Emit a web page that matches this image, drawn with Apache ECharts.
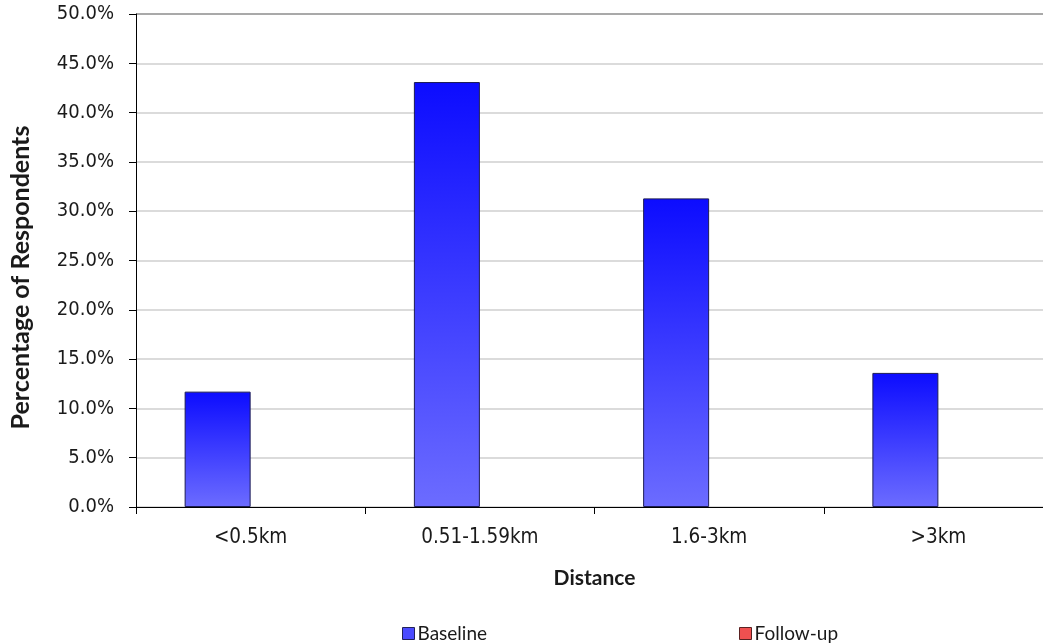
<!DOCTYPE html>
<html>
<head>
<meta charset="utf-8">
<script src="https://cdn.jsdelivr.net/npm/echarts@6/dist/echarts.min.js"></script>
<style>
  html, body { margin: 0; padding: 0; background: #ffffff; overflow: hidden; }
  /* the plot runs on past the right edge of the window, so the canvas is wider than the page */
  #chart { width: 1070px; height: 643px; }
</style>
</head>
<body>
<div id="chart"></div>
<script>
// Distance bands and share of respondents (%) per survey wave
const categories = ['<0.5km', '0.51-1.59km', '1.6-3km', '>3km'];
const baseline = [11.7, 43.1, 31.3, 13.6];
const followUp = [null, null, null, null];
const yTicks = { min: 0, max: 50, interval: 5 };

const labelFont = '"DejaVu Sans Condensed", "DejaVu Sans", sans-serif';
const titleFont = 'Lato, "Open Sans", sans-serif';

const blueFill = new echarts.graphic.LinearGradient(0, 0, 0, 1, [
  { offset: 0, color: '#0c0cff' },
  { offset: 1, color: '#6c6cff' }
]);
const redFill = new echarts.graphic.LinearGradient(0, 0, 0, 1, [
  { offset: 0, color: '#ff2020' },
  { offset: 1, color: '#ff7070' }
]);

// light grid lines, with a darker line along the top of the plot
const gridColors = [];
for (let v = yTicks.min; v <= yTicks.max; v += yTicks.interval) {
  gridColors.push(v === yTicks.max ? '#8c8c8c' : '#cfcfcf');
}

const chart = echarts.init(document.getElementById('chart'), null, { renderer: 'canvas' });
chart.setOption({
  animation: false,
  backgroundColor: '#ffffff',
  grid: { left: 135, top: 14, width: 918, height: 493, containLabel: false },
  legend: {
    left: 397,
    top: 619,
    itemWidth: 12,
    itemHeight: 12,
    itemGap: 252,
    icon: 'rect',
    textStyle: { fontFamily: titleFont, fontSize: 19, color: '#1a1a1a', padding: [0, 0, 0, -2] },
    data: [
      { name: 'Baseline', itemStyle: { color: '#4b4bff', borderColor: '#22225a', borderWidth: 1 } },
      { name: 'Follow-up', itemStyle: { color: '#f05050', borderColor: '#5a2222', borderWidth: 1 } }
    ]
  },
  xAxis: {
    type: 'category',
    data: categories,
    name: 'Distance',
    nameLocation: 'middle',
    nameGap: 61,
    nameTextStyle: { fontFamily: titleFont, fontWeight: 'bold', fontSize: 21, color: '#1a1a1a' },
    axisLine: { lineStyle: { color: '#000000', width: 1 } },
    axisTick: { show: true, length: 7, alignWithLabel: false, lineStyle: { color: '#000000' } },
    axisLabel: { margin: 20, fontFamily: labelFont, fontSize: 20.5, color: '#1a1a1a' },
    splitLine: { show: false }
  },
  yAxis: {
    type: 'value',
    min: yTicks.min,
    max: yTicks.max,
    interval: yTicks.interval,
    name: 'Percentage of Respondents',
    nameLocation: 'middle',
    nameGap: 103,
    nameTextStyle: {
      fontFamily: titleFont, fontWeight: 'bold', fontSize: 25, color: '#1a1a1a',
      padding: [0, 34, 0, 0]
    },
    axisLine: { show: true, lineStyle: { color: '#000000', width: 1 } },
    axisTick: { show: true, length: 7, lineStyle: { color: '#000000' } },
    axisLabel: {
      margin: 22, fontFamily: labelFont, fontSize: 20, color: '#1a1a1a',
      formatter: v => v.toFixed(1) + '%'
    },
    splitLine: { show: true, lineStyle: { color: gridColors, width: 1.5 } }
  },
  series: [
    {
      name: 'Baseline',
      type: 'bar',
      data: baseline,
      barWidth: 66,
      barGap: '0%',
      itemStyle: { color: blueFill, borderColor: '#1c1c55', borderWidth: 1 }
    },
    {
      name: 'Follow-up',
      type: 'bar',
      data: followUp,
      barWidth: 66,
      itemStyle: { color: redFill, borderColor: '#5a2222', borderWidth: 1 }
    }
  ]
});
</script>
</body>
</html>
